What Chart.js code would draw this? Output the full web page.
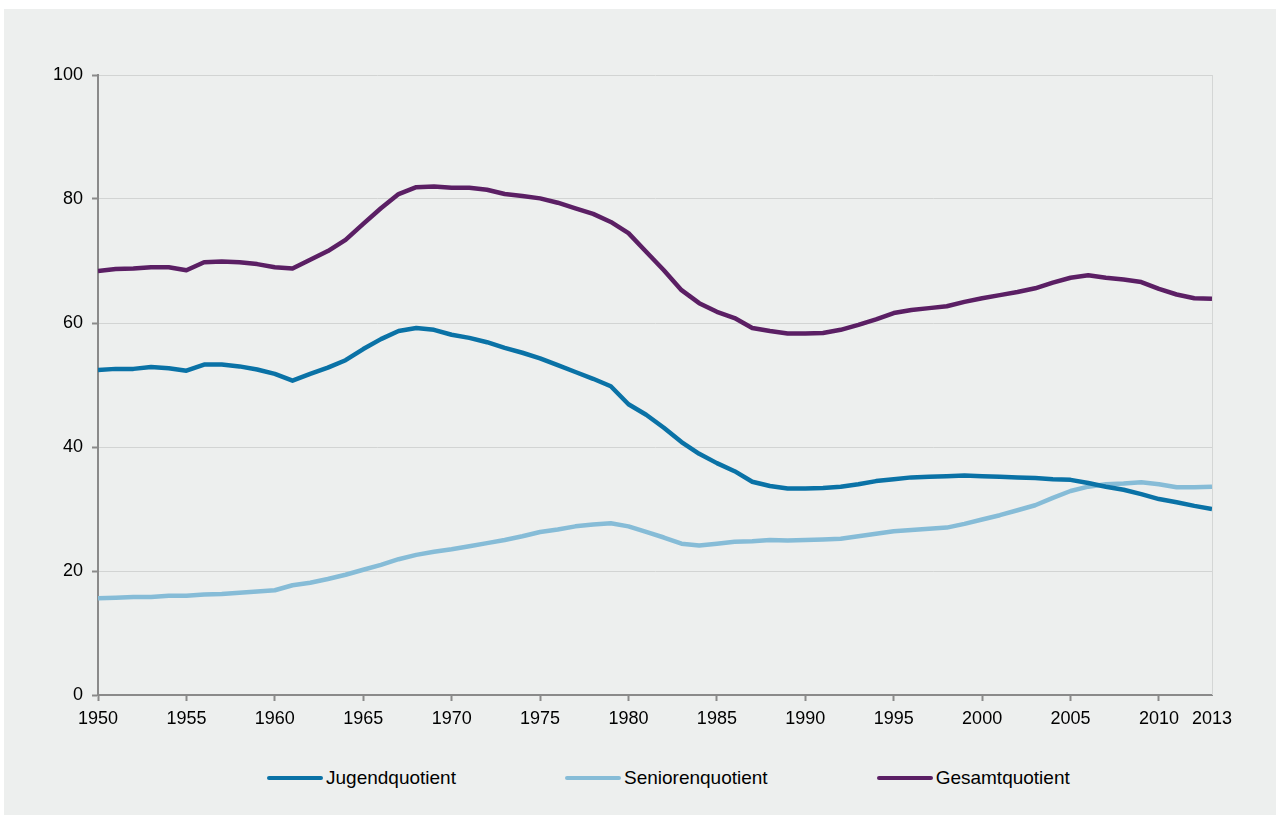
<!DOCTYPE html>
<html>

<head>
    <script src="https://cdnjs.cloudflare.com/ajax/libs/Chart.js/4.4.1/chart.umd.min.js"></script>
    <style>
        body {
            margin: 0;
            background: #ffffff;
            font-family: 'Liberation Sans', Arial, sans-serif;
        }

        #box {
            position: absolute;
            left: 4px;
            top: 9px;
            width: 1272px;
            height: 806px;
            background: #edefee;
        }

        #wrap {
            position: absolute;
            left: 0;
            top: 0;
            width: 1272px;
            height: 740px;
        }

        #legend {
            position: absolute;
            left: 263px;
            top: 758px;
            display: flex;
            font-size: 19px;
            color: #000;
        }

        #legend .item {
            display: flex;
            align-items: center;
            margin-right: 109px;
        }

        #legend .swatch {
            width: 56px;
            height: 4px;
            border-radius: 2px;
            margin-right: 3px;
        }
    </style>
    <title>Jugend-, Senioren- und Gesamtquotient</title>
</head>

<body>
    <div id="box">
        <div id="wrap"><canvas id="myChart"></canvas></div>
        <div id="legend"></div>
    </div>

    <script>
        var years = [1950, 1951, 1952, 1953, 1954, 1955, 1956, 1957, 1958, 1959,
            1960, 1961, 1962, 1963, 1964, 1965, 1966, 1967, 1968, 1969,
            1970, 1971, 1972, 1973, 1974, 1975, 1976, 1977, 1978, 1979,
            1980, 1981, 1982, 1983, 1984, 1985, 1986, 1987, 1988, 1989,
            1990, 1991, 1992, 1993, 1994, 1995, 1996, 1997, 1998, 1999,
            2000, 2001, 2002, 2003, 2004, 2005, 2006, 2007, 2008, 2009,
            2010, 2011, 2012, 2013];

        var jugend = [52.4, 52.6, 52.6, 52.9, 52.7, 52.3, 53.3, 53.3, 53.0, 52.5,
            51.8, 50.7, 51.8, 52.8, 54.0, 55.8, 57.4, 58.7, 59.2, 58.9,
            58.1, 57.6, 56.9, 56.0, 55.2, 54.3, 53.2, 52.1, 51.0, 49.8,
            46.9, 45.2, 43.1, 40.8, 38.9, 37.4, 36.1, 34.4, 33.7, 33.3,
            33.3, 33.4, 33.6, 34.0, 34.5, 34.8, 35.1, 35.2, 35.3, 35.4,
            35.3, 35.2, 35.1, 35.0, 34.8, 34.7, 34.2, 33.6, 33.1, 32.4,
            31.6, 31.1, 30.5, 30.0];

        var senioren = [15.6, 15.7, 15.8, 15.8, 16.0, 16.0, 16.2, 16.3, 16.5, 16.7,
            16.9, 17.7, 18.1, 18.7, 19.4, 20.2, 21.0, 21.9, 22.6, 23.1,
            23.5, 24.0, 24.5, 25.0, 25.6, 26.3, 26.7, 27.2, 27.5, 27.7,
            27.2, 26.3, 25.4, 24.4, 24.1, 24.4, 24.7, 24.8, 25.0, 24.9,
            25.0, 25.1, 25.2, 25.6, 26.0, 26.4, 26.6, 26.8, 27.0, 27.6,
            28.3, 29.0, 29.8, 30.6, 31.8, 32.9, 33.6, 34.0, 34.1, 34.3,
            34.0, 33.5, 33.5, 33.6];

        var gesamt = [68.4, 68.7, 68.8, 69.0, 69.0, 68.5, 69.8, 69.9, 69.8, 69.5,
            69.0, 68.8, 70.2, 71.6, 73.4, 76.0, 78.5, 80.8, 81.9, 82.0,
            81.8, 81.8, 81.5, 80.8, 80.5, 80.1, 79.4, 78.5, 77.6, 76.3,
            74.5, 71.5, 68.5, 65.3, 63.2, 61.8, 60.8, 59.2, 58.7, 58.3,
            58.3, 58.4, 58.9, 59.7, 60.6, 61.6, 62.1, 62.4, 62.7, 63.4,
            64.0, 64.5, 65.0, 65.6, 66.5, 67.3, 67.7, 67.3, 67.0, 66.6,
            65.5, 64.6, 64.0, 63.9];

        var seriesNames = ['Jugendquotient', 'Seniorenquotient', 'Gesamtquotient'];
        var seriesColors = ['#0a72a6', '#86bcd7', '#5b1f64'];
        var xTicks = [1950, 1955, 1960, 1965, 1970, 1975, 1980, 1985, 1990, 1995, 2000, 2005, 2010, 2013];
        var yTicks = [0, 20, 40, 60, 80, 100];

        function points(vals) {
            return vals.map(function (v, i) { return { x: years[i], y: v }; });
        }

        var allSeries = [jugend, senioren, gesamt];
        var datasets = allSeries.map(function (vals, i) {
            return {
                label: seriesNames[i],
                data: points(vals),
                borderColor: seriesColors[i],
                backgroundColor: seriesColors[i],
                borderWidth: 4.5,
                pointRadius: 0,
                fill: false,
                tension: 0,
                borderJoinStyle: 'round'
            };
        });

        // right frame line of the plot
        var rightFrame = {
            id: 'rightFrame',
            beforeDatasetsDraw: function (chart) {
                var a = chart.chartArea, c = chart.ctx;
                c.save();
                c.strokeStyle = '#d4d6d5';
                c.lineWidth = 1;
                c.beginPath();
                c.moveTo(a.right + 0.5, a.top);
                c.lineTo(a.right + 0.5, a.bottom);
                c.stroke();
                c.restore();
            }
        };

        Chart.defaults.font.family = "'Liberation Sans', Arial, sans-serif";
        Chart.defaults.font.size = 18;
        Chart.defaults.color = '#000';

        var ctx = document.getElementById('myChart').getContext('2d');
        var myChart = new Chart(ctx, {
            type: 'line',
            data: { datasets: datasets },
            plugins: [rightFrame],
            options: {
                responsive: true,
                maintainAspectRatio: false,
                animation: false,
                layout: { padding: { top: 66, right: 64, bottom: 0, left: 0 } },
                plugins: {
                    legend: { display: false },
                    tooltip: { enabled: false }
                },
                scales: {
                    x: {
                        type: 'linear',
                        min: 1950,
                        max: 2013,
                        afterBuildTicks: function (scale) {
                            scale.ticks = xTicks.map(function (v) { return { value: v }; });
                        },
                        afterFit: function (scale) { scale.height = 54; },
                        ticks: {
                            padding: 7,
                            autoSkip: false,
                            maxRotation: 0,
                            callback: function (v) { return String(v); }
                        },
                        grid: {
                            drawOnChartArea: false,
                            tickLength: 6,
                            tickWidth: 2,
                            tickColor: function (c) {
                                return c.tick && c.tick.value === 2013 ? 'rgba(0,0,0,0)' : '#8a8a8a';
                            }
                        },
                        border: { color: '#8a8a8a', width: 2 }
                    },
                    y: {
                        min: 0,
                        max: 100,
                        afterBuildTicks: function (scale) {
                            scale.ticks = yTicks.map(function (v) { return { value: v }; });
                        },
                        afterFit: function (scale) { scale.width = 94; },
                        ticks: { padding: 9 },
                        grid: {
                            color: '#d2d4d3',
                            lineWidth: 1,
                            tickLength: 6,
                            tickColor: '#8a8a8a',
                            tickWidth: 2
                        },
                        border: { color: '#8a8a8a', width: 2 }
                    }
                }
            }
        });

        // legend in HTML, built from the series arrays
        var legendEl = document.getElementById('legend');
        seriesNames.forEach(function (name, i) {
            var item = document.createElement('div');
            item.className = 'item';
            var sw = document.createElement('div');
            sw.className = 'swatch';
            sw.style.background = seriesColors[i];
            var tx = document.createElement('span');
            tx.textContent = name;
            item.appendChild(sw);
            item.appendChild(tx);
            legendEl.appendChild(item);
        });
    </script>
</body>

</html>
